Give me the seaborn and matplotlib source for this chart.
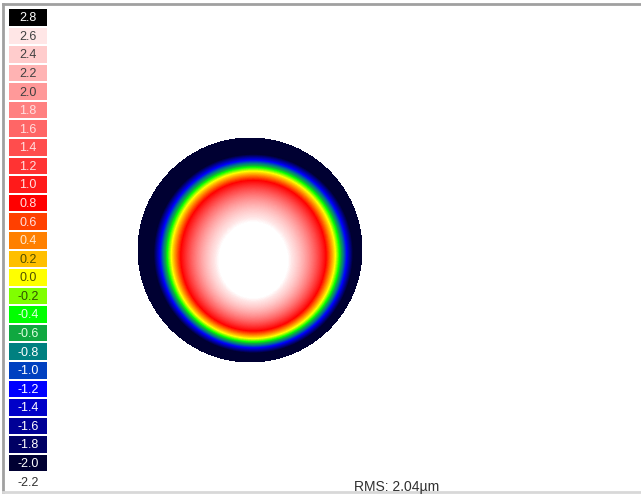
import numpy as np
import pandas as pd
import seaborn as sns
import matplotlib.pyplot as plt
from matplotlib.colors import ListedColormap, LinearSegmentedColormap
from matplotlib.lines import Line2D

# colour scale (top to bottom), as printed in the legend column
levels = [2.8, 2.6, 2.4, 2.2, 2.0, 1.8, 1.6, 1.4, 1.2, 1.0, 0.8, 0.6, 0.4, 0.2,
          0.0, -0.2, -0.4, -0.6, -0.8, -1.0, -1.2, -1.4, -1.6, -1.8, -2.0, -2.2]
level_labels = ["2.8", "2.6", "2.4", "2.2", "2.0", "1.8", "1.6", "1.4", "1.2", "1.0",
                "0.8", "0.6", "0.4", "0.2", "0.0", "-0.2", "-0.4", "-0.6", "-0.8",
                "-1.0", "-1.2", "-1.4", "-1.6", "-1.8", "-2.0", "-2.2"]
level_colors = ["#000000", "#FFE6E6", "#FFCCCC", "#FFB3B3", "#FF9999", "#FF8080",
                "#FF6666", "#FF4D4D", "#FF3333", "#FF1A1A", "#FF0000", "#FF4000",
                "#FF8000", "#FFBF00", "#FFFF00", "#80FF00", "#00FF00", "#10A840",
                "#008080", "#0040C0", "#0000FF", "#0000C8", "#000096", "#000064",
                "#000032", "#FFFFFF"]
text_colors = ["white", "#404040", "#404040", "#404040", "#404040", "#FFE0E0",
               "#FFE0E0", "#FFE0E0", "#FFE0E0", "#FFE0E0", "#FFE0E0", "#FFE0E0",
               "#FFE8D0", "#505000", "#505000", "#305000", "#E0FFE0", "#E0FFE0",
               "white", "white", "white", "white", "white", "white", "white", "#303030"]

# wavefront surface (unit pupil):
# W = c0 + c2*r^2 + c4*r^4 + astig2*(4r^2 - 3)*(x^2 - y^2) + coma*(3r^2 - 2)*y
surface_coef = [3.15, -4.0, -3.3]
astig2_coef = 0.2
coma_coef = 0.28
centre_shift = [0.03, -0.037]
white_level = 2.72
rms_text = "RMS: 2.04\u00b5m"

# build the map
n = 226
xs = np.linspace(-1, 1, n)
ys = np.linspace(1, -1, n)
X, Y = np.meshgrid(xs, ys)
Xs = X - centre_shift[0]
Ys = Y - centre_shift[1]
r2 = Xs**2 + Ys**2
W = (surface_coef[0] + surface_coef[1] * r2 + surface_coef[2] * r2**2
     + astig2_coef * (4 * r2 - 3) * (Xs**2 - Ys**2)
     + coma_coef * (3 * r2 - 2) * Ys)
W = np.clip(W, -2.2, 2.8)
outside = (X**2 + Y**2) > 1.0
surface = pd.DataFrame(W)

# continuous map colours (white above top pink)
lo, hi = -2.2, 2.8
nodes = ([(-2.2, "#000032")]
         + [(v, c) for v, c in zip(levels[1:-1][::-1], level_colors[1:-1][::-1])]
         + [(white_level, "#FFFFFF"), (2.8, "#FFFFFF")])
map_cmap = LinearSegmentedColormap.from_list(
    "wave", [((v - lo) / (hi - lo), c) for v, c in nodes])

plt.rcParams['font.family'] = ['Liberation Sans', 'DejaVu Sans']
fig = plt.figure(figsize=(6.41, 4.95), dpi=100)

ax = fig.add_axes([0.2137, 0.2667, 0.3526, 0.4566])
sns.heatmap(surface, mask=outside, cmap=map_cmap, vmin=lo, vmax=hi, cbar=False,
            xticklabels=False, yticklabels=False, ax=ax, rasterized=True)
ax.set_aspect('equal')
ax.set_xlabel('')
ax.set_ylabel('')

# legend column
cax = fig.add_axes([8 / 641, 4 / 495, 40 / 641, 483 / 495])
idx = pd.DataFrame(np.arange(len(levels)).reshape(-1, 1))
sns.heatmap(idx, cmap=ListedColormap(level_colors), vmin=-0.5, vmax=len(levels) - 0.5,
            cbar=False, linewidths=1.2, linecolor="white",
            xticklabels=False, yticklabels=False, ax=cax)
for i, (lab, tc) in enumerate(zip(level_labels, text_colors)):
    cax.text(0.5, i + 0.55, lab, ha='center', va='center', color=tc, fontsize=9)
cax.set_xlabel('')
cax.set_ylabel('')

# window frame
fig.add_artist(Line2D([3 / 641, 1], [1 - 4 / 495, 1 - 4 / 495], color="#A0A0A0", lw=2))
fig.add_artist(Line2D([3 / 641, 3 / 641], [1 - 4 / 495, 3 / 495], color="#A0A0A0", lw=2))
fig.add_artist(Line2D([3 / 641, 1], [3 / 495, 3 / 495], color="#D8D8D8", lw=2))

fig.text(397 / 641, 8 / 495, rms_text, ha='center', va='center', fontsize=10, color="#303030")

fig.savefig("out.png", dpi=100)
